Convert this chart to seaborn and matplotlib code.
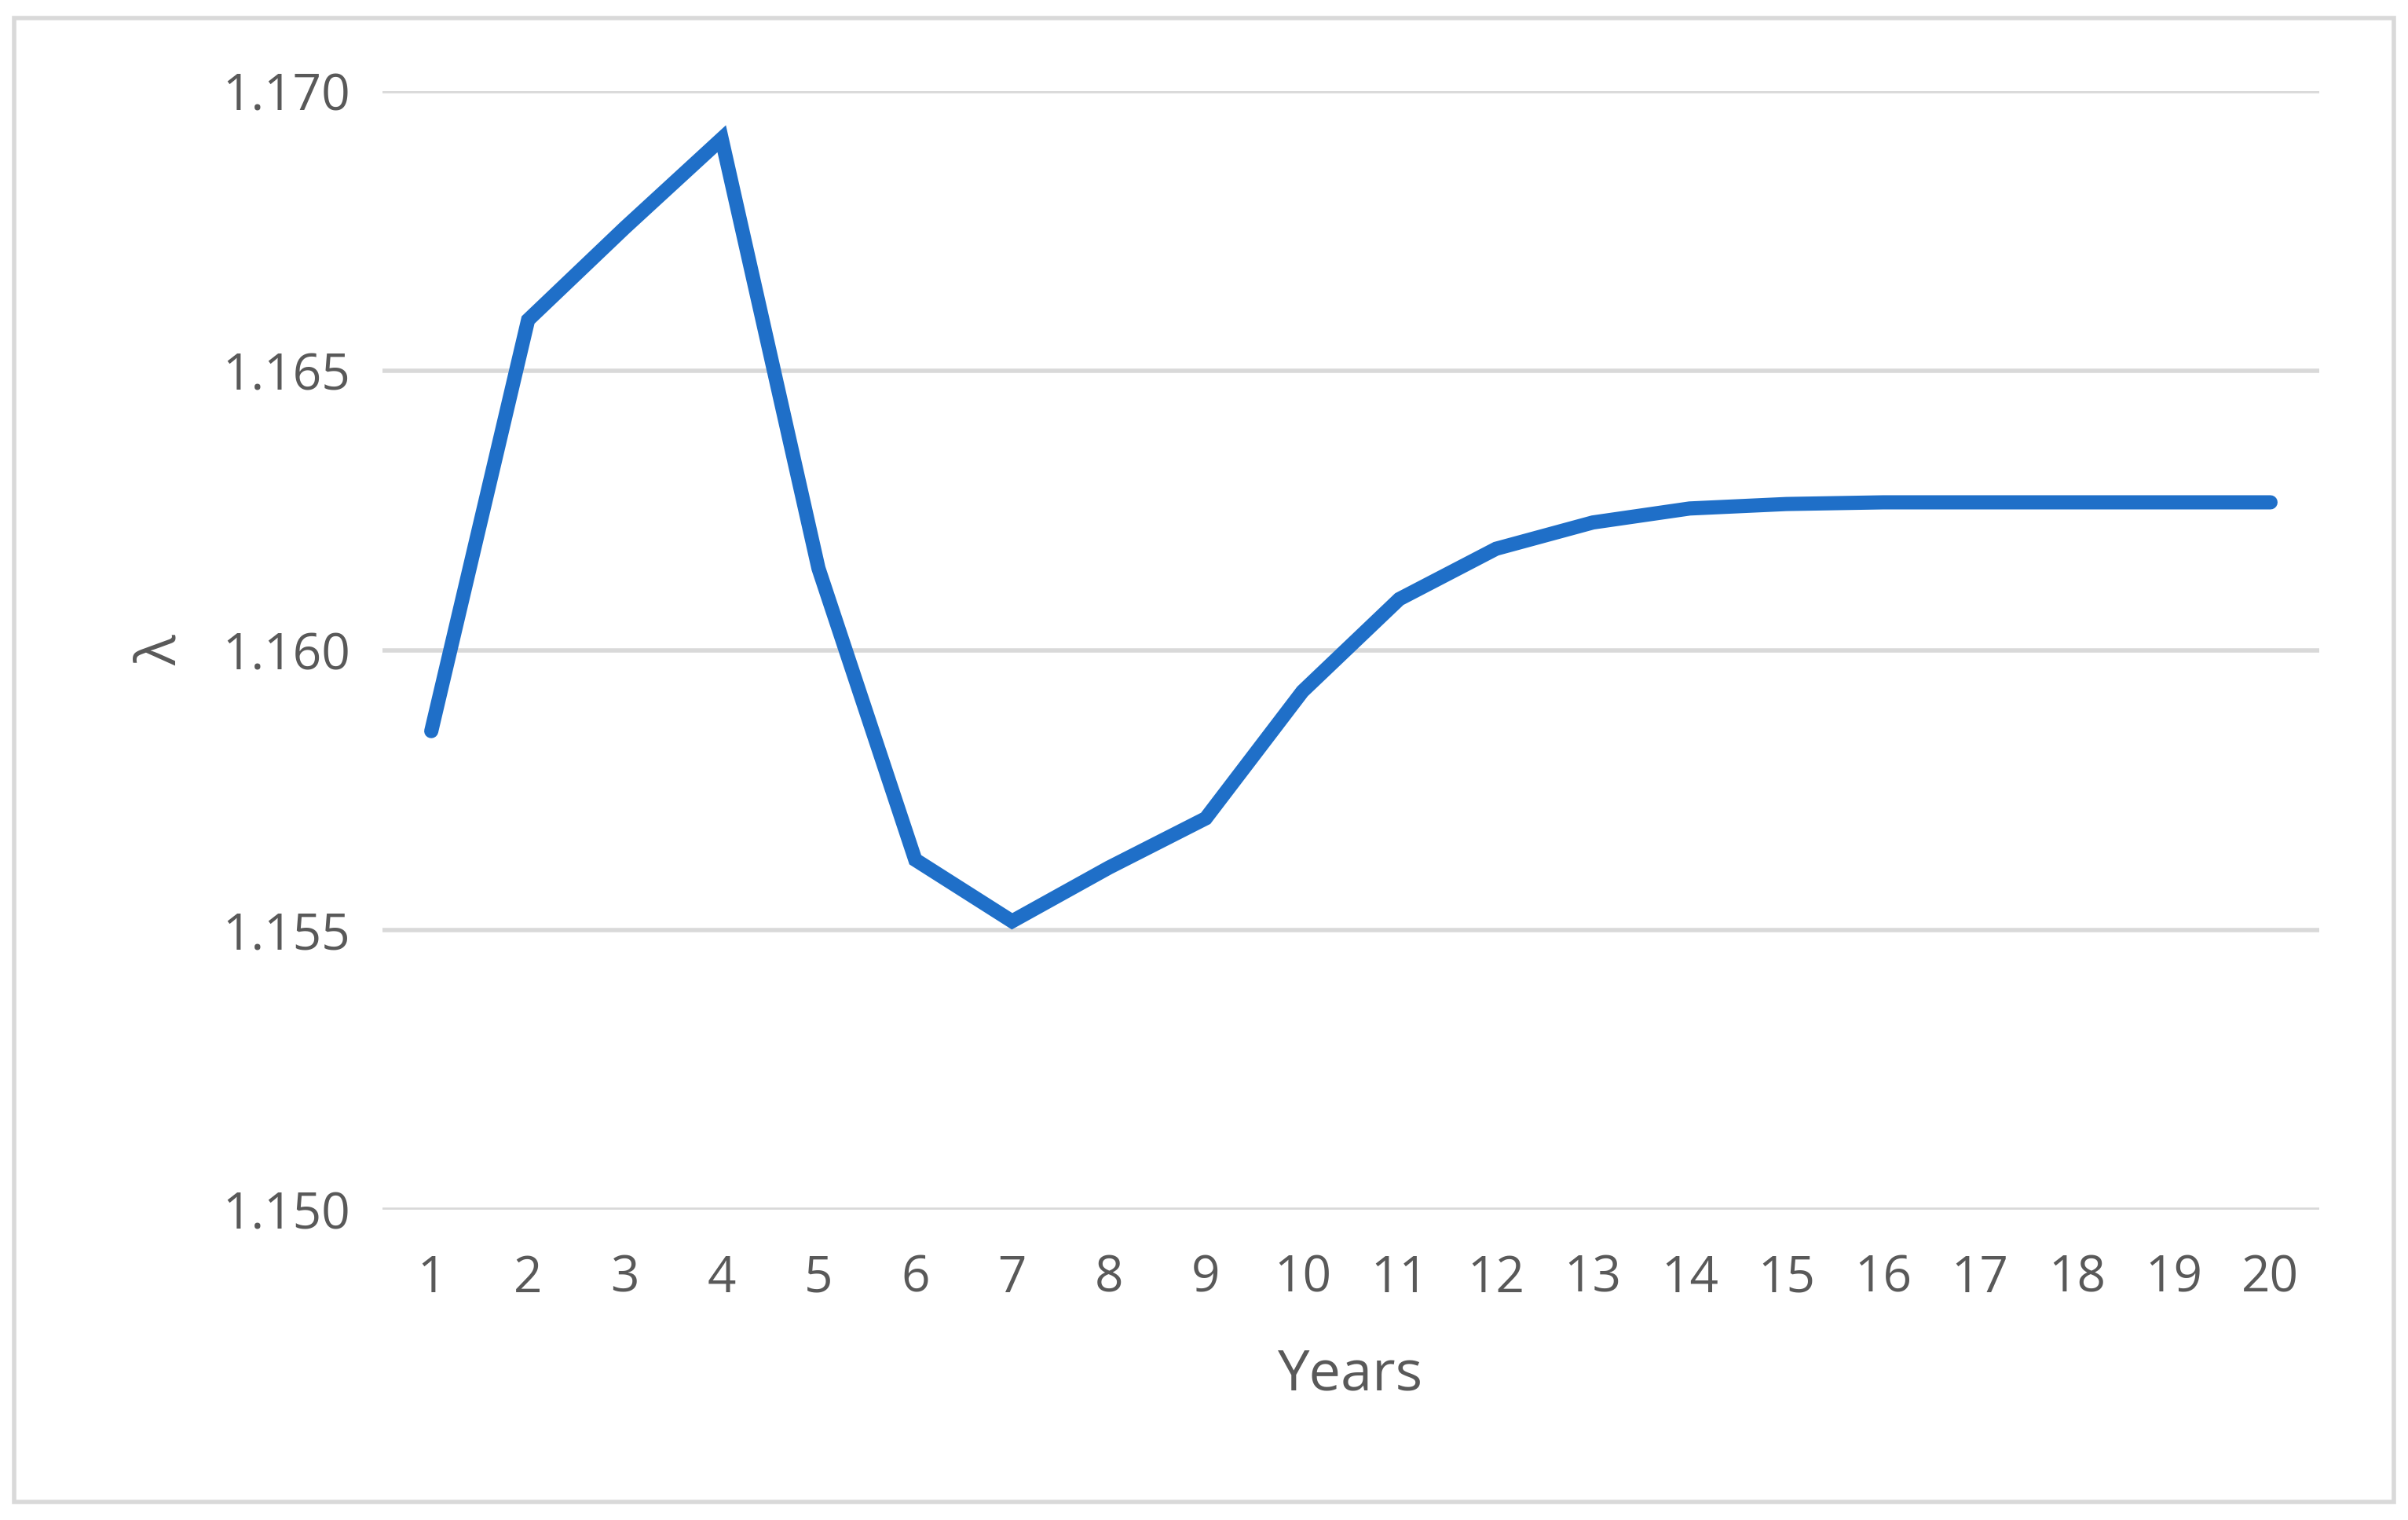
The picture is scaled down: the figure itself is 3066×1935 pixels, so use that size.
import matplotlib
matplotlib.use("Agg")
import matplotlib.pyplot as plt
import seaborn as sns
import pandas as pd
from matplotlib.patches import Rectangle

years = list(range(1, 21))
lam = [1.15856, 1.16591, 1.16756, 1.16915, 1.16147, 1.15626, 1.15516, 1.15612, 1.15700, 1.15927,
       1.16092, 1.16182, 1.16229, 1.16254, 1.16262, 1.16265, 1.16265, 1.16265, 1.16265, 1.16265]
yticks = [1.150, 1.155, 1.160, 1.165, 1.170]

sns.set_theme(style="white")
plt.rcParams['font.family'] = ['Open Sans', 'DejaVu Sans']
df = pd.DataFrame({"Years": years, "lam": lam})

fig = plt.figure(figsize=(30.66, 19.35), dpi=100)
ax = fig.add_axes([0.159, 0.204, 0.804, 0.736])
sns.lineplot(data=df, x="Years", y="lam", ax=ax, color="#1F6FC8", linewidth=13, solid_joinstyle="miter")
ax.set_xlim(0.5, 20.5)
ax.set_ylim(1.150, 1.170)
ax.set_yticks(yticks)
ax.set_yticklabels([f"{v:.3f}" for v in yticks])
ax.set_xticks(years)
ax.grid(axis="y", color="#D9D9D9", linewidth=4)
ax.set_axisbelow(True)
for s in ax.spines.values():
    s.set_visible(False)
ax.tick_params(axis="y", labelsize=46, colors="#595959", length=0, pad=30)
ax.tick_params(axis="x", labelsize=46, colors="#595959", length=0, pad=40)
ax.set_xlabel("Years", fontsize=52, color="#595959", labelpad=40)
ax.set_ylabel("λ", fontsize=52, color="#595959", labelpad=30)
fig.patches.append(Rectangle((0.006, 0.012), 0.988, 0.976, transform=fig.transFigure,
                             fill=False, edgecolor="#D9D9D9", linewidth=4))
fig.savefig("out.png", dpi=100)
